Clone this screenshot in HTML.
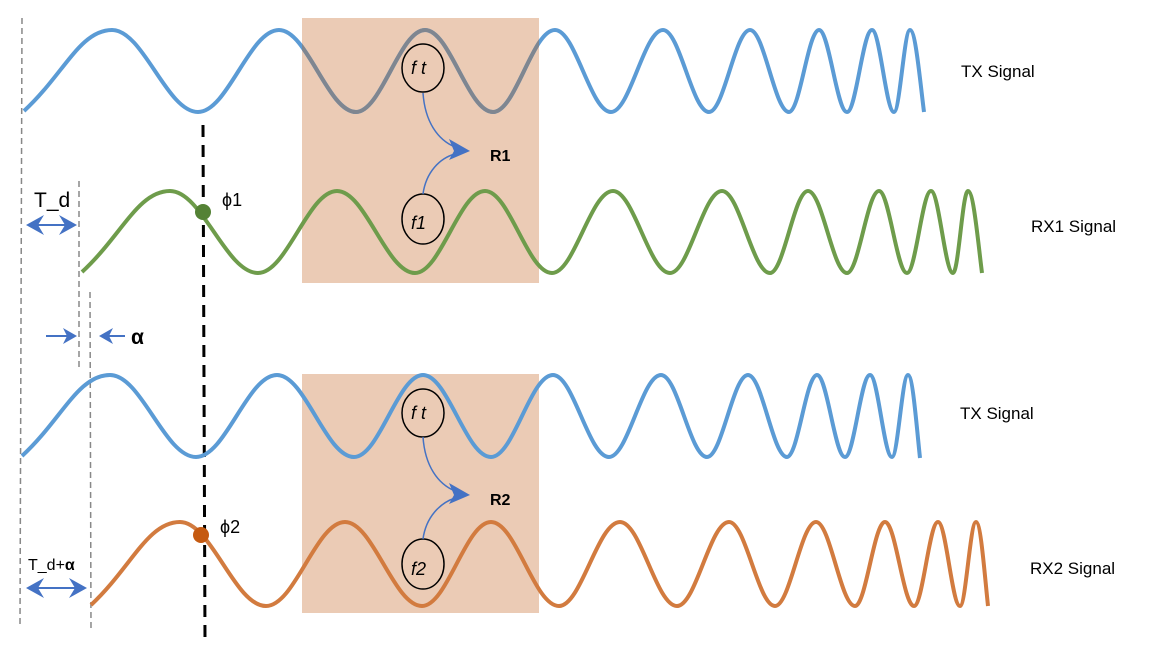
<!DOCTYPE html>
<html><head><meta charset="utf-8"><style>
html,body{margin:0;padding:0;background:#fff;}
svg{display:block;}
text{font-family:"Liberation Sans",sans-serif;}
</style></head><body>
<svg id="s" width="1150" height="655" viewBox="0 0 1150 655" xmlns="http://www.w3.org/2000/svg">
<defs>
<clipPath id="c1"><rect x="302" y="18" width="237" height="265"/></clipPath>
</defs>
<rect x="302" y="18" width="237" height="265" fill="#ebcbb5"/>
<rect x="302" y="374" width="237" height="239" fill="#ebcbb5"/>

<g stroke="#888" stroke-width="1.5" stroke-dasharray="6,4">
<line x1="22" y1="18" x2="20" y2="625"/>
<line x1="79" y1="181" x2="79" y2="370"/>
<line x1="90" y1="292" x2="91" y2="630"/>
</g>
<line x1="203" y1="125" x2="205" y2="642" stroke="#000" stroke-width="3" stroke-dasharray="12,8"/>

<path id="tx1" fill="none" stroke="#5b9bd5" stroke-width="4"/>
<path id="tx1g" fill="none" stroke="#7f8690" stroke-width="4" clip-path="url(#c1)"/>
<path id="rx1" fill="none" stroke="#6e9c4b" stroke-width="4"/>
<path id="tx2" fill="none" stroke="#5b9bd5" stroke-width="4"/>
<path id="rx2" fill="none" stroke="#d27b3f" stroke-width="4"/>

<circle cx="203" cy="212" r="8" fill="#548235"/>
<circle cx="201" cy="535" r="8" fill="#c55a11"/>
<text x="222" y="206" font-size="18">ϕ1</text>
<text x="220" y="533" font-size="18">ϕ2</text>

<g fill="none" stroke="#000" stroke-width="1.5">
<ellipse cx="423" cy="68" rx="21" ry="24"/>
<ellipse cx="423" cy="219" rx="21" ry="25"/>
<ellipse cx="423" cy="413" rx="21" ry="24"/>
<ellipse cx="423" cy="564" rx="21" ry="25"/>
</g>
<g font-size="18" font-style="italic" font-family="Liberation Serif, serif">
<text x="411" y="74">f t</text>
<text x="411" y="229">f1</text>
<text x="411" y="419">f t</text>
<text x="411" y="575">f2</text>
</g>
<g fill="none" stroke="#4472c4" stroke-width="1.5">
<path d="M423,93 C425,122 438,140 455,147"/>
<path d="M423,194 C426,172 440,158 455,154"/>
<path d="M423,437 C425,466 438,484 455,491"/>
<path d="M423,539 C426,517 440,503 455,498"/>
</g>
<g fill="#4472c4">
<path d="M470,151 L449,160 L454,151 L449,139Z"/>
<path d="M470,495 L449,504 L454,495 L449,483Z"/>
</g>
<text x="490" y="161" font-size="16" font-weight="bold">R1</text>
<text x="490" y="505" font-size="16" font-weight="bold">R2</text>

<g fill="none" stroke="#4472c4" stroke-width="2">
<line x1="32" y1="225" x2="70" y2="225"/>
<line x1="32" y1="588" x2="80" y2="588"/>
<line x1="46" y1="336" x2="70" y2="336"/>
<line x1="125" y1="336" x2="104" y2="336"/>
</g>
<g fill="#4472c4">
<path d="M26,225 L44,215 L38,225 L44,235Z"/>
<path d="M77,225 L59,215 L65,225 L59,235Z"/>
<path d="M26,588 L44,578 L38,588 L44,598Z"/>
<path d="M87,588 L69,578 L75,588 L69,598Z"/>
<path d="M77,336 L63,328 L67,336 L63,344Z"/>
<path d="M99,336 L113,328 L109,336 L113,344Z"/>
</g>
<text x="34" y="207" font-size="21">T_d</text>
<text x="131" y="344" font-size="21" font-weight="bold">α</text>
<text x="28" y="570" font-size="16">T_d+<tspan font-weight="bold">α</tspan></text>

<g font-size="17">
<text x="961" y="77">TX Signal</text>
<text x="1031" y="232">RX1 Signal</text>
<text x="960" y="419">TX Signal</text>
<text x="1030" y="574">RX2 Signal</text>
</g>
</svg>
<script>
function build(start,xs,end,pk,tr,firstIsPeak){
  var d="M"+start[0]+","+start[1];
  var px=start[0],py=start[1];
  var isP=firstIsPeak;
  for(var i=0;i<xs.length;i++){
    var x=xs[i],y=isP?pk:tr;
    var dx=x-px;
    var c1x=(i==0)?px+dx*0.45:px+dx*0.364;
    var c1y=(i==0)?py+(y-py)*0.45:py;
    d+=" C"+c1x.toFixed(1)+","+c1y.toFixed(1)+" "+(x-dx*0.364).toFixed(1)+","+y+" "+x+","+y;
    px=x;py=y;isP=!isP;
  }
  var dx=end[0]-px;
  d+=" C"+(px+dx*0.4).toFixed(1)+","+py+" "+(end[0]-dx*0.3).toFixed(1)+","+(end[1]+(py-end[1])*0.4).toFixed(1)+" "+end[0]+","+end[1];
  return d;
}
var tx=[112,198,279,356,425,493,555,611,663,709,750,789,819,847,872,894,910];
var d1=build([24,111],tx,[924,112],30,112,true);
document.getElementById("tx1").setAttribute("d",d1);
document.getElementById("tx1g").setAttribute("d",d1);
var tx2=tx.map(function(v){return v-2;});
document.getElementById("tx2").setAttribute("d",build([22,456],tx2,[920,458],375,457,true));
var rx1=[170,258,337,415,485,552,613,670,722,770,808,847,879,907,931,953,968];
document.getElementById("rx1").setAttribute("d",build([82,272],rx1,[982,273],191,273,true));
var rx2=[180,266,345,422,491,559,620,677,729,775,816,855,885,914,938,960,976];
document.getElementById("rx2").setAttribute("d",build([91,605],rx2,[988,606],522,606,true));
</script>
</body></html>
